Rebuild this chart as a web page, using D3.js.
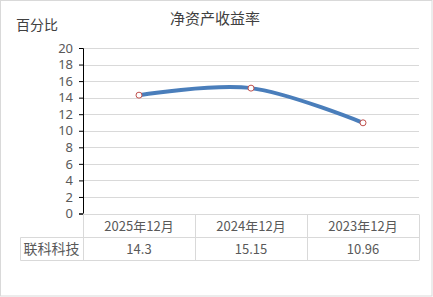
<!DOCTYPE html>
<html>
<head>
<meta charset="utf-8">
<script src="https://cdn.jsdelivr.net/npm/d3@7"></script>
<style>
  body { margin: 0; background: #fff; }
  text { font-family: "Noto Sans CJK SC", "Noto Sans", sans-serif; }
</style>
</head>
<body>
<div class="mainCont"></div>
<script>
var categories = ["2025年12月", "2024年12月", "2023年12月"];
var seriesName = "联科科技";
var values = [14.3, 15.15, 10.96];
var yTicks = [0, 2, 4, 6, 8, 10, 12, 14, 16, 18, 20];

var W = 433, H = 297;
var plot = { left: 83, right: 419, top: 48, bottom: 213.5 };
var rowH = 23;
var labelLeft = 20;
var textColor = "#595959";
var gridColor = "#d9d9d9";

var svg = d3.select(".mainCont").append("svg")
    .attr("width", W)
    .attr("height", H);

// outer frame
svg.append("rect")
    .attr("x", 0.5).attr("y", 0.5)
    .attr("width", W - 1.5).attr("height", H - 1.5)
    .attr("fill", "#fff")
    .attr("stroke", gridColor);

var x = d3.scaleBand()
    .domain(categories)
    .range([plot.left, plot.right]);

var y = d3.scaleLinear()
    .domain([0, 20])
    .range([plot.bottom, plot.top]);

// gridlines
svg.append("g")
    .selectAll("line")
    .data(yTicks.filter(function(d) { return d > 0; }))
    .enter().append("line")
    .attr("x1", plot.left).attr("x2", plot.right)
    .attr("y1", function(d) { return Math.round(y(d)) + 0.5; })
    .attr("y2", function(d) { return Math.round(y(d)) + 0.5; })
    .attr("stroke", gridColor);

// y axis
var yAxis = d3.axisLeft(y)
    .tickValues(yTicks)
    .tickSize(4)
    .tickPadding(6);

var gy = svg.append("g")
    .attr("transform", "translate(" + plot.left + ",0)")
    .call(yAxis);
gy.select(".domain").attr("stroke", "#000");
gy.selectAll(".tick line").attr("stroke", "#000");
gy.selectAll(".tick text")
    .attr("fill", textColor)
    .style("font-size", "13px")
    .style("font-family", "'Noto Sans', sans-serif");

// line
var line = d3.line()
    .x(function(d, i) { return x(categories[i]) + x.bandwidth() / 2; })
    .y(function(d) { return y(d); })
    .curve(d3.curveCardinal.tension(0));

svg.append("path")
    .datum(values)
    .attr("d", line)
    .attr("fill", "none")
    .attr("stroke", "#4a7ebb")
    .attr("stroke-width", 4)
    .attr("stroke-linecap", "round");

svg.append("g")
    .selectAll("circle")
    .data(values)
    .enter().append("circle")
    .attr("cx", function(d, i) { return x(categories[i]) + x.bandwidth() / 2; })
    .attr("cy", function(d) { return y(d); })
    .attr("r", 3)
    .attr("fill", "#fff")
    .attr("stroke", "#c0504d")
    .attr("stroke-width", 1);

// data table
var tTop = 214.5;
var table = svg.append("g").attr("stroke", gridColor).attr("fill", "none");
table.append("line")
    .attr("x1", plot.left).attr("x2", plot.right)
    .attr("y1", tTop).attr("y2", tTop);
table.append("line")
    .attr("x1", labelLeft + 0.5).attr("x2", plot.right)
    .attr("y1", tTop + rowH).attr("y2", tTop + rowH);
table.append("line")
    .attr("x1", labelLeft + 0.5).attr("x2", plot.right)
    .attr("y1", tTop + rowH * 2).attr("y2", tTop + rowH * 2);
table.append("line")
    .attr("x1", labelLeft + 0.5).attr("x2", labelLeft + 0.5)
    .attr("y1", tTop + rowH).attr("y2", tTop + rowH * 2);
table.selectAll(".vcol")
    .data(categories)
    .enter().append("line")
    .attr("class", "vcol")
    .attr("x1", function(d) { return Math.round(x(d) + x.bandwidth()) + 0.5; })
    .attr("x2", function(d) { return Math.round(x(d) + x.bandwidth()) + 0.5; })
    .attr("y1", tTop).attr("y2", tTop + rowH * 2);
table.append("line")
    .attr("x1", plot.left + 0.5).attr("x2", plot.left + 0.5)
    .attr("y1", plot.bottom).attr("y2", tTop + rowH * 2);

svg.append("g")
    .selectAll("text")
    .data(categories)
    .enter().append("text")
    .attr("x", function(d) { return x(d) + x.bandwidth() / 2; })
    .attr("y", tTop + rowH / 2)
    .attr("dy", "0.35em")
    .attr("text-anchor", "middle")
    .attr("fill", textColor)
    .style("font-size", "13px")
    .text(function(d) { return d; });

svg.append("g")
    .selectAll("text")
    .data(values)
    .enter().append("text")
    .attr("x", function(d, i) { return x(categories[i]) + x.bandwidth() / 2; })
    .attr("y", tTop + rowH * 1.5)
    .attr("dy", "0.35em")
    .attr("text-anchor", "middle")
    .attr("fill", textColor)
    .style("font-size", "13px")
    .text(function(d) { return d; });

svg.append("text")
    .attr("x", (labelLeft + plot.left) / 2)
    .attr("y", tTop + rowH * 1.5)
    .attr("dy", "0.35em")
    .attr("text-anchor", "middle")
    .attr("fill", textColor)
    .style("font-size", "14px")
    .text(seriesName);

// titles
svg.append("text")
    .attr("x", 215)
    .attr("y", 19)
    .attr("dy", "0.35em")
    .attr("text-anchor", "middle")
    .attr("fill", "#404040")
    .style("font-size", "15px")
    .text("净资产收益率");

svg.append("text")
    .attr("x", 16)
    .attr("y", 25)
    .attr("dy", "0.35em")
    .attr("fill", "#404040")
    .style("font-size", "14px")
    .text("百分比");
</script>
</body>
</html>
